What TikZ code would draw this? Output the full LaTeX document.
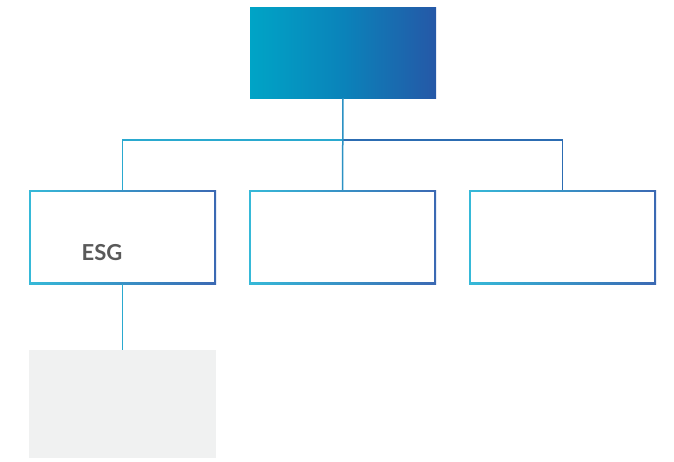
\documentclass[tikz,border=0pt]{standalone}
\usepackage{fontspec}
\setsansfont{Lato}
\usepackage{tikz}
\usetikzlibrary{positioning}
\definecolor{topL}{HTML}{00A4C6}
\definecolor{topM}{HTML}{0A83BA}
\definecolor{topR}{HTML}{2558A7}
\definecolor{edgeL}{HTML}{36B9D8}
\definecolor{edgeR}{HTML}{3B69B3}
\definecolor{lineC}{HTML}{2AA9CF}
\definecolor{lineB}{HTML}{2C6CB2}
\definecolor{paleBox}{HTML}{F0F1F1}
\definecolor{textGray}{HTML}{595959}
\newcommand{\framew}{1.6pt}

\tikzset{
  TopStyle/.style = {rectangle, inner sep=0pt, outer sep=0pt,
    minimum width=186pt, minimum height=91pt,
    left color=topL, right color=topR, middle color=topM},
  BoxStyle/.style = {rectangle, inner sep=0pt, outer sep=0pt,
    minimum width=187pt, minimum height=94pt,
    left color=edgeL, right color=edgeR,
    path picture={\fill[white]
      ([shift={(\framew,\framew)}]path picture bounding box.south west) rectangle
      ([shift={(-\framew,-\framew)}]path picture bounding box.north east);}},
  PaleStyle/.style = {rectangle, inner sep=0pt, outer sep=0pt, fill=paleBox,
    minimum width=187pt, minimum height=108pt},
  LinkStyle/.style = {line width=1.5pt},
  LabelStyle/.style = {font=\sffamily\bfseries\fontsize{22}{26}\selectfont,
    text=textGray, inner sep=0pt}
}

\begin{document}
\begin{tikzpicture}[x=1pt, y=-1pt]
            \useasboundingbox (0,0) rectangle (674,461);
            \node[TopStyle] (top) at (343,52.5) {};
            \node[BoxStyle] (left) at (122.5,237) {};
            \node[BoxStyle] (mid) at (342.5,237) {};
            \node[BoxStyle] (right) at (562.5,237) {};
            \node[PaleStyle] (below) at (122.5,404) {};
            \node[LabelStyle] (esg) at (102,253) {ESG};

            \coordinate (split) at (343,140);

            \draw[LinkStyle, lineC] (left.north) |- (split);
            \draw[LinkStyle, lineB] (split) -| (right.north);
            \draw[LinkStyle, lineC!60!lineB] (top.south) -- (mid.north);
            \draw[LinkStyle, lineC] (left.south) -- (below.north);
        \end{tikzpicture}
\end{document}
